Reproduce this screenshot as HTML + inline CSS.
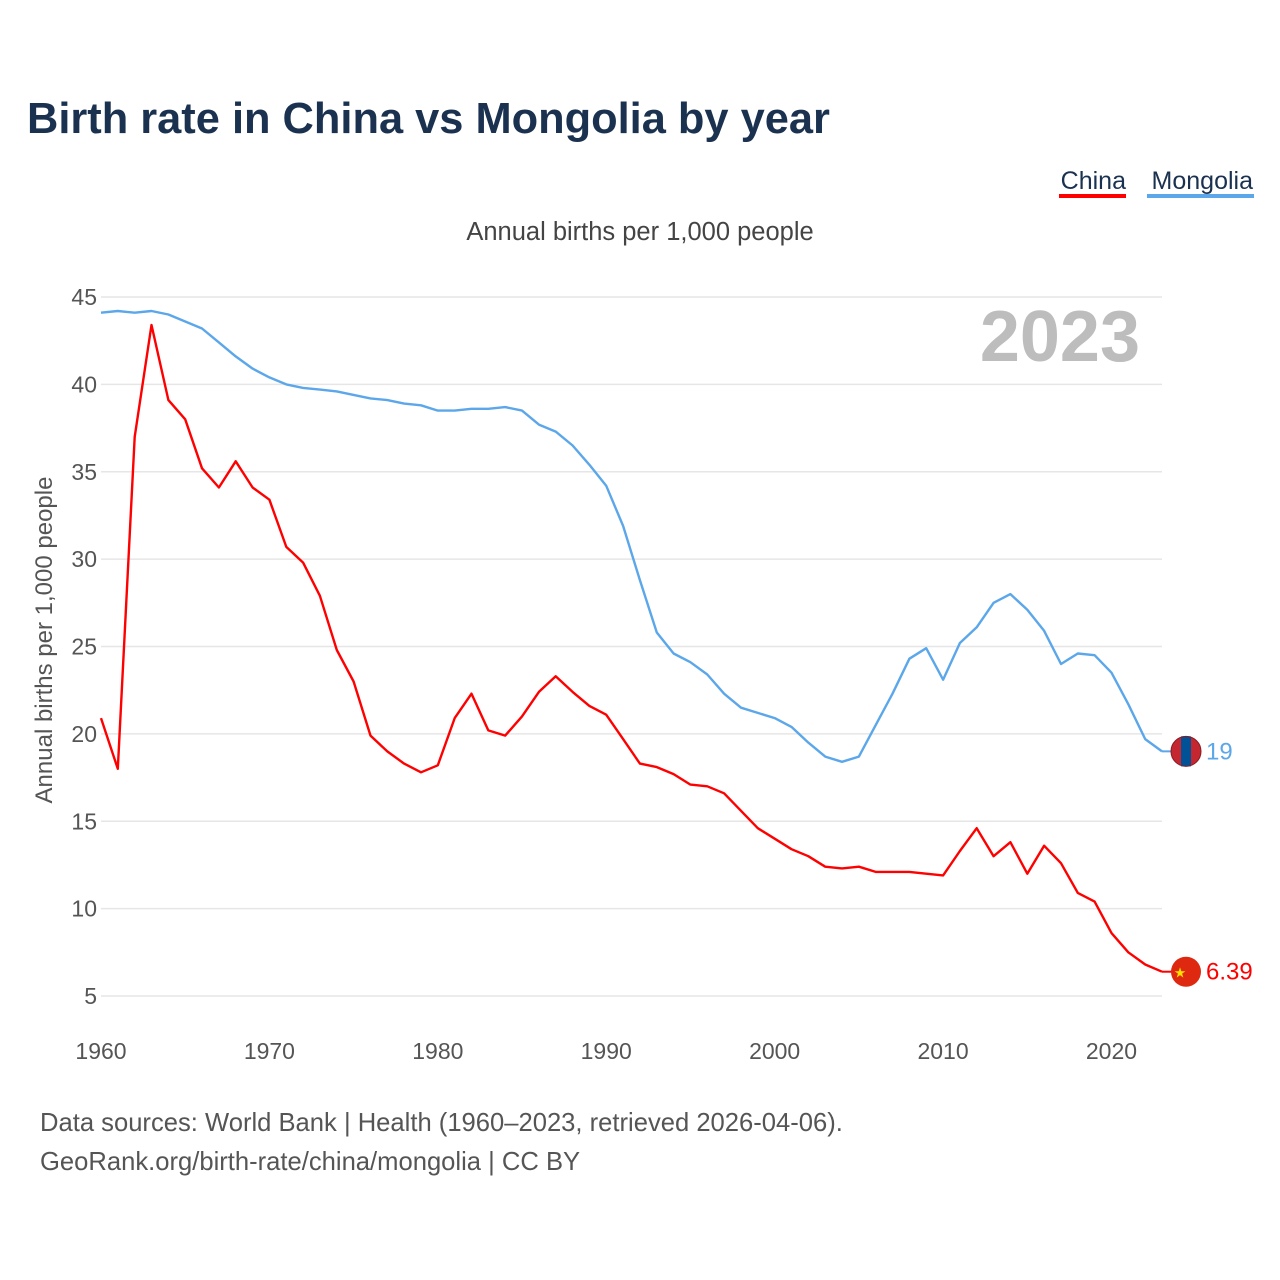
<!DOCTYPE html>
<html><head><meta charset="utf-8"><style>
body{margin:0;background:#fff;font-family:"Liberation Sans",sans-serif;}
#wrap{position:relative;width:1280px;height:1280px;overflow:hidden}
</style></head><body>
<div id="wrap">
<svg id="chart" width="1280" height="1280">
<text x="27" y="133" font-size="43.4" font-weight="bold" fill="#1b3150">Birth rate in China vs Mongolia by year</text>
<g><text x="1126" y="189" font-size="25" fill="#1b3150" text-anchor="end">China</text><rect x="1059" y="194" width="67" height="4" fill="#ff0000"/></g>
<g><text x="1253" y="189" font-size="25" fill="#1b3150" text-anchor="end">Mongolia</text><rect x="1147" y="194" width="107" height="4" fill="#5ba7ea"/></g>
<text x="640" y="240" font-size="25.5" fill="#444" text-anchor="middle">Annual births per 1,000 people</text>
<text x="52" y="640" font-size="24" fill="#555" text-anchor="middle" transform="rotate(-90 52 640)">Annual births per 1,000 people</text>
<text x="1140" y="361" font-size="72" font-weight="bold" fill="#bdbdbd" text-anchor="end">2023</text>
<g id="grid"></g><g id="lines"></g>
<text x="40" y="1131" font-size="25.6" fill="#555">Data sources: World Bank | Health (1960–2023, retrieved 2026-04-06).</text>
<text x="40" y="1170" font-size="25.6" fill="#555">GeoRank.org/birth-rate/china/mongolia | CC BY</text>
</svg></div>
<script>
const years=[];for(let y=1960;y<=2023;y++)years.push(y);
const china=[20.9,18.0,37.0,43.4,39.1,38.0,35.2,34.1,35.6,34.1,33.4,30.7,29.8,27.9,24.8,23.0,19.9,19.0,18.3,17.8,18.2,20.9,22.3,20.2,19.9,21.0,22.4,23.3,22.4,21.6,21.1,19.7,18.3,18.1,17.7,17.1,17.0,16.6,15.6,14.6,14.0,13.4,13.0,12.4,12.3,12.4,12.1,12.1,12.1,12.0,11.9,13.3,14.6,13.0,13.8,12.0,13.6,12.6,10.9,10.4,8.6,7.5,6.8,6.39];
const mongolia=[44.1,44.2,44.1,44.2,44.0,43.6,43.2,42.4,41.6,40.9,40.4,40.0,39.8,39.7,39.6,39.4,39.2,39.1,38.9,38.8,38.5,38.5,38.6,38.6,38.7,38.5,37.7,37.3,36.5,35.4,34.2,31.9,28.8,25.8,24.6,24.1,23.4,22.3,21.5,21.2,20.9,20.4,19.5,18.7,18.4,18.7,20.5,22.3,24.3,24.9,23.1,25.2,26.1,27.5,28.0,27.1,25.9,24.0,24.6,24.5,23.5,21.7,19.7,19.0];
const yTicks=[5,10,15,20,25,30,35,40,45];
const xTicks=[1960,1970,1980,1990,2000,2010,2020];
const X=v=>101+(v-1960)*(1162-101)/63;
const Y=v=>297+(45-v)*(996-297)/40;
const NS='http://www.w3.org/2000/svg';
const grid=document.getElementById('grid'),lines=document.getElementById('lines');
function mk(tag,attrs,parent){const e=document.createElementNS(NS,tag);for(const k in attrs)e.setAttribute(k,attrs[k]);parent.appendChild(e);return e;}
yTicks.forEach(t=>{
 const l=mk('line',{x1:101,x2:1162,y1:Y(t),y2:Y(t),stroke:'#e6e6e6','stroke-width':1.5},grid);
 
 
 const tx=mk('text',{x:97,y:Y(t)+8,'font-size':23,fill:'#555','text-anchor':'end'},grid);tx.textContent=t;
 
 
});
xTicks.forEach(t=>{
 const tx=mk('text',{x:X(t),y:1059,'font-size':23,fill:'#555','text-anchor':'middle'},grid);tx.textContent=t;
 
 
});
function series(vals,color,name,label,flag){
 const d=vals.map((v,i)=>(i?'L':'M')+X(years[i]).toFixed(1)+' '+Y(v).toFixed(1)).join(' ');
 const p=mk('path',{d:d,fill:'none',stroke:color,'stroke-width':2.4,'stroke-linejoin':'round'},lines);
 
 
 const last=vals[vals.length-1],ly=Y(last);
 mk('line',{x1:1162,x2:1172,y1:ly,y2:ly,stroke:color,'stroke-width':2},lines);
 const g=mk('g',{},lines);
 
 
 if(flag==='mn'){
  mk('circle',{cx:1186,cy:ly,r:15,fill:'#c4272f'},g);
  mk('rect',{x:1181,y:ly-15,width:10,height:30,fill:'#015197'},g);
  mk('circle',{cx:1186,cy:ly,r:15,fill:'none',stroke:'#8a1a22','stroke-width':1},g);
 }else{
  mk('circle',{cx:1186,cy:ly,r:15,fill:'#de2910'},g);
  const s=mk('text',{x:1180,y:ly+6,'font-size':14,fill:'#ffde00','text-anchor':'middle'},g);s.textContent='★';
 }
 const t=mk('text',{x:1206,y:ly+8,'font-size':24,fill:color},lines);t.textContent=label;
 
 
}
series(mongolia,'#5ba7ea','mongolia','19','mn');
series(china,'#ff0000','china','6.39','cn');
</script>
</body></html>
